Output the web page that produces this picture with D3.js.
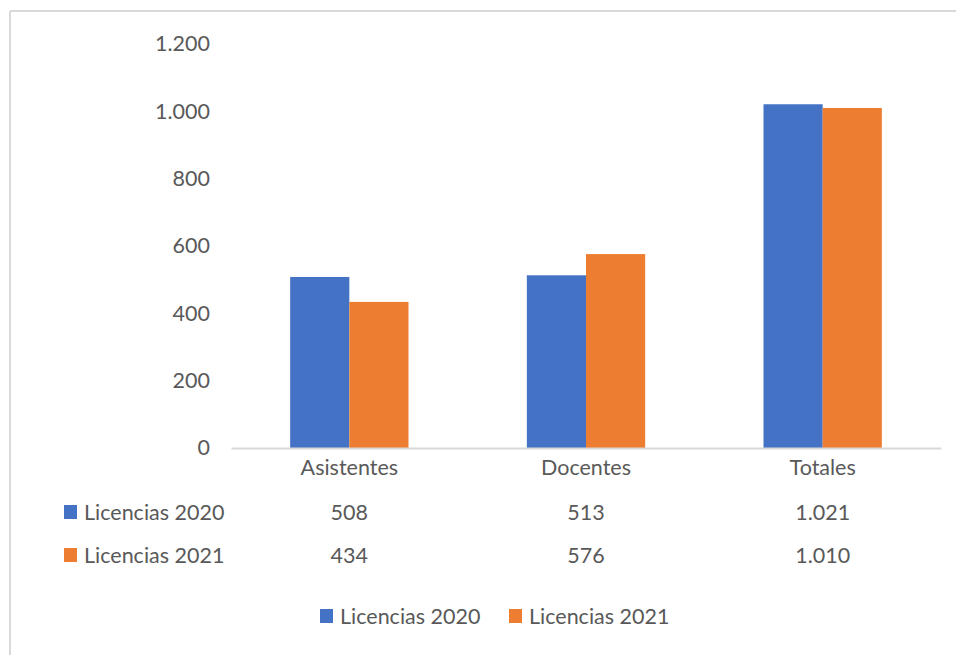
<!DOCTYPE html>
<html><head><meta charset="utf-8">
<script src="https://cdn.jsdelivr.net/npm/d3@7"></script>
<style>body{margin:0;background:#fff}svg{display:block}</style>
</head><body>
<script>
const categories = ["Asistentes", "Docentes", "Totales"];
const seriesNames = ["Licencias 2020", "Licencias 2021"];
const licencias2020 = [508, 513, 1021];
const licencias2021 = [434, 576, 1010];
const yTicks = [0, 200, 400, 600, 800, 1000, 1200];
const colors = ["#4472C4", "#ED7D31"];
const seriesValues = [licencias2020, licencias2021];

const W = 956, H = 655;
const svg = d3.select("body").append("svg").attr("width", W).attr("height", H);
const font = "Lato, 'Open Sans', sans-serif";
const txt = "#595959";
const fs = 21.5;

// frame
svg.append("line").attr("x1", 10).attr("x2", W).attr("y1", 11).attr("y2", 11).attr("stroke", "#d9d9d9").attr("stroke-width", 2);
svg.append("line").attr("x1", 10).attr("x2", 10).attr("y1", 11).attr("y2", H).attr("stroke", "#d9d9d9").attr("stroke-width", 2);

const x0 = d3.scaleBand().domain(categories).range([231, 941]).paddingInner(0).paddingOuter(0);
const y = d3.scaleLinear().domain([0, 1200]).range([448, 44]);
const x1 = d3.scaleBand().domain(seriesNames).range([0, x0.bandwidth()]).paddingInner(0).paddingOuter(1);

// y tick labels
const fmt = d => d3.format(",")(d).replace(/,/g, ".");
const yAxis = d3.axisLeft(y).tickValues(yTicks).tickSize(0).tickPadding(0).tickFormat(fmt);
const gy = svg.append("g").attr("transform", "translate(210,0)").call(yAxis);
gy.select(".domain").remove();
gy.selectAll("text").attr("font-family", font).attr("font-size", fs).attr("fill", txt);

// bars
const groups = svg.append("g").selectAll("g").data(categories).join("g")
  .attr("transform", d => `translate(${x0(d)},0)`);
groups.selectAll("rect").data((c, i) => seriesNames.map((s, j) => ({s, v: seriesValues[j][i], j})))
  .join("rect")
  .attr("x", d => x1(d.s)).attr("width", x1.bandwidth())
  .attr("y", d => y(d.v)).attr("height", d => y(0) - y(d.v))
  .attr("fill", d => colors[d.j]);

// x axis
const xAxis = d3.axisBottom(x0).tickSize(0).tickPadding(12);
const gx = svg.append("g").attr("transform", `translate(0,${y(0)})`).call(xAxis);
gx.select(".domain").attr("stroke", "#d9d9d9").attr("stroke-width", 2);
gx.selectAll("text").attr("font-family", font).attr("font-size", fs).attr("fill", txt);

// data table
const rowY = [512, 555];
seriesNames.forEach((s, j) => {
  svg.append("rect").attr("x", 64).attr("y", rowY[j] - 7).attr("width", 13).attr("height", 14).attr("fill", colors[j]);
  svg.append("text").attr("x", 84).attr("y", rowY[j]).attr("dy", "0.35em")
    .attr("font-family", font).attr("font-size", fs).attr("fill", txt).text(s);
  categories.forEach((c, i) => {
    svg.append("text").attr("x", x0(c) + x0.bandwidth() / 2).attr("y", rowY[j]).attr("dy", "0.35em")
      .attr("text-anchor", "middle").attr("font-family", font).attr("font-size", fs).attr("fill", txt)
      .text(fmt(seriesValues[j][i]));
  });
});

// legend
const legX = [320, 509];
seriesNames.forEach((s, j) => {
  svg.append("rect").attr("x", legX[j]).attr("y", 609).attr("width", 13).attr("height", 14).attr("fill", colors[j]);
  svg.append("text").attr("x", legX[j] + 20).attr("y", 616).attr("dy", "0.35em")
    .attr("font-family", font).attr("font-size", fs).attr("fill", txt).text(s);
});
</script>
</body></html>
